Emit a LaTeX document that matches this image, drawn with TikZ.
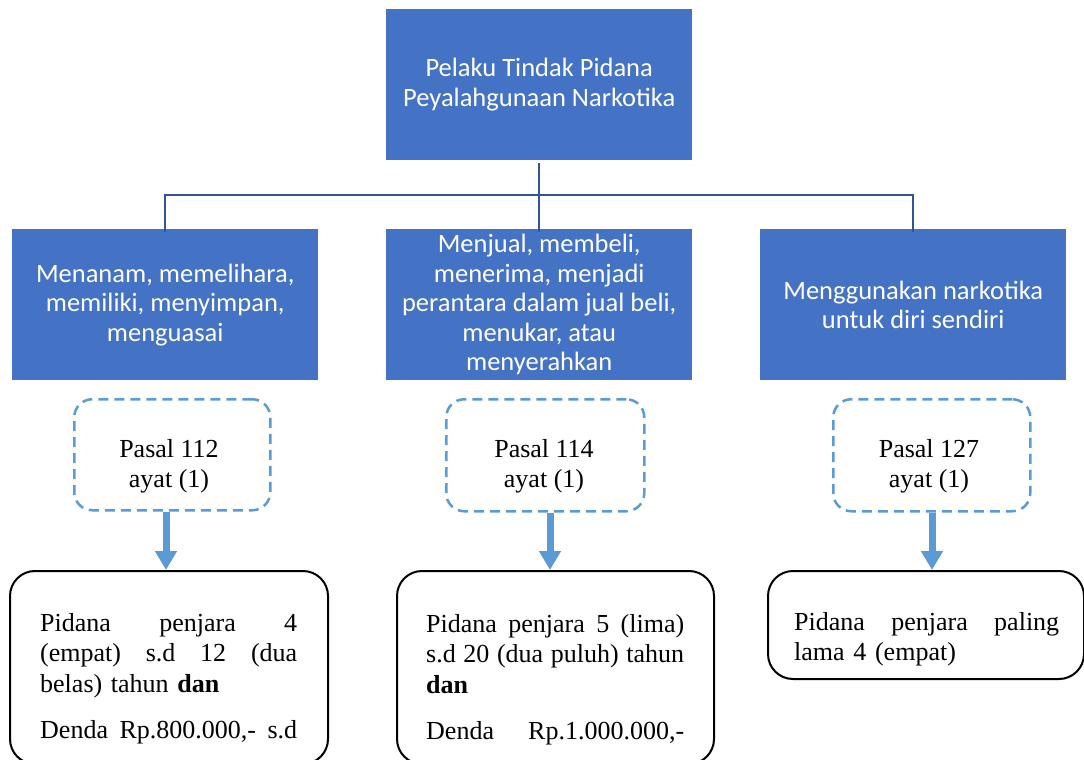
\documentclass[tikz,border=0pt]{standalone}
\usepackage{fontspec}
\setmainfont{Liberation Serif}
\newfontfamily\calfont{Carlito}
\usetikzlibrary{arrows.meta}
\definecolor{boxblue}{HTML}{4472C4}
\definecolor{linkblue}{HTML}{2F5597}
\definecolor{dashblue}{HTML}{5B9BD5}
\newcommand\jline[2]{\leavevmode\hbox to #1{#2}}
\begin{document}
\begin{tikzpicture}[x=1pt,y=-1pt,
  bluebox/.style={fill=boxblue, text=white, font=\calfont\fontsize{26.5}{29.5}\selectfont,
    align=center, minimum width=306pt, minimum height=151pt, inner sep=0pt, anchor=north west},
  pbox/.style={draw=dashblue, line width=2.5pt, dash pattern=on 10pt off 6pt,
    rounded corners=18pt, anchor=north west, inner sep=0pt},
  ptext/.style={font=\fontsize{26}{30}\selectfont, align=center, inner sep=0pt},
  resbox/.style={draw=black, line width=2pt, rounded corners=25pt, anchor=north west, inner sep=0pt},
  restext/.style={font=\fontsize{26}{30.5}\selectfont, align=left, inner sep=0pt, anchor=north west},
  conn/.style={draw=linkblue, line width=2.5pt},
  arr/.style={draw=dashblue, line width=7pt, -{Triangle[width=21pt,length=19pt]}}
]
\useasboundingbox (0,0) rectangle (1084,760);
\clip (0,0) rectangle (1084,760);

% level 1 and 2
\node[bluebox] (top) at (386,9) {Pelaku Tindak Pidana\\Peyalahgunaan Narkotika};
\node[bluebox] (l1) at (12,229) {Menanam, memelihara,\\memiliki, menyimpan,\\menguasai};
\node[bluebox] (l2) at (386,229) {Menjual, membeli,\\menerima, menjadi\\perantara dalam jual beli,\\menukar, atau\\menyerahkan};
\node[bluebox] (l3) at (760,229) {Menggunakan narkotika\\untuk diri sendiri};

\coordinate (h) at (0,195);
\draw[conn, shorten <=3pt] (top.south) -- ([yshift=-3pt]l2.north);
\draw[conn] ([yshift=-3pt]l1.north) -- (l1.north |- h) -- (l3.north |- h) -- ([yshift=-3pt]l3.north);

% pasal boxes
\node[pbox, minimum width=196pt, minimum height=111pt] (p1) at (73,398) {};
\node[pbox, minimum width=198pt, minimum height=112pt] (p2) at (445,398) {};
\node[pbox, minimum width=197pt, minimum height=112pt] (p3) at (832,398) {};
\node[ptext] (t1) at (169,466) {Pasal 112\\ayat (1)};
\node[ptext] (t2) at (544,466) {Pasal 114\\ayat (1)};
\node[ptext] (t3) at (929,466) {Pasal 127\\ayat (1)};

% result boxes
\node[resbox, minimum width=318pt, minimum height=193pt] (b1) at (9,570) {};
\node[resbox, minimum width=317pt, minimum height=193pt] (b2) at (396,570) {};
\node[resbox, minimum width=316pt, minimum height=108pt] (b3) at (767,570) {};

\coordinate (a1) at (166,0);
\coordinate (a2) at (550,0);
\coordinate (a3) at (932,0);
\draw[arr] (p1.south -| a1) -- (b1.north -| a1);
\draw[arr] (p2.south -| a2) -- (b2.north -| a2);
\draw[arr] (p3.south -| a3) -- (b3.north -| a3);

\node[restext, text width=257pt] (r1) at (40,611) {%
\jline{257pt}{\rule{0pt}{20pt}Pidana\hfill penjara\hfill 4}\\
\jline{257pt}{(empat)\hfill s.d\hfill 12\hfill (dua}\\
belas) tahun {\bfseries dan}\\[16pt]
\jline{257pt}{Denda\hfill Rp.800.000,-\hfill s.d}};

\node[restext, text width=258pt] (r2) at (426,612) {%
\jline{258pt}{\rule{0pt}{20pt}Pidana\hfill penjara\hfill 5\hfill (lima)}\\
\jline{258pt}{s.d\hfill 20\hfill (dua\hfill puluh)\hfill tahun}\\
{\bfseries dan}\\[16pt]
\jline{258pt}{Denda\hfill Rp.1.000.000,-}};

\node[restext, text width=265pt] (r3) at (794,610) {%
\jline{265pt}{\rule{0pt}{20pt}Pidana\hfill penjara\hfill paling}\\
lama 4 (empat)};
\end{tikzpicture}
\end{document}
